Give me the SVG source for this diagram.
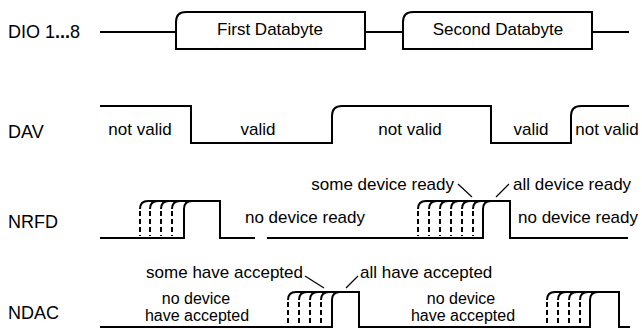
<svg xmlns="http://www.w3.org/2000/svg" width="642" height="329" viewBox="0 0 642 329">
<style>
text{font-family:"Liberation Sans",Arial,sans-serif;fill:#000}
.lbl{font-size:18px}
.t{font-size:17px}
.s{font-size:16px}
.m{text-anchor:middle}
.e{text-anchor:end}
.sig{fill:none;stroke:#000;stroke-width:2;stroke-linejoin:miter}
.arc{fill:none;stroke:#000;stroke-width:2}
.dash{fill:none;stroke:#000;stroke-width:2;stroke-dasharray:5 3}
.lead{fill:none;stroke:#000;stroke-width:1.2}
</style>
<rect width="642" height="329" fill="#fff"/>
<g id="dio">
<text class="lbl" x="8" y="38">DIO 1<tspan font-weight="bold">...</tspan>8</text>
<path class="sig" d="M100,32 H176 M365,32 H403 M592,32 H629"/>
<path class="sig" d="M176,49 V22 Q176,12 186,12 H365 V49 Z"/>
<path class="sig" d="M403,49 V22 Q403,12 413,12 H592 V49 Z"/>
<text class="t m" x="270" y="35">First Databyte</text>
<text class="t m" x="498" y="35">Second Databyte</text>
</g>
<g id="dav">
<text class="lbl" x="8" y="138">DAV</text>
<path class="sig" d="M100,106 H191 V143 H332 V116 Q332,106 342,106 H491 V143 H571 V116 Q571,106 581,106 H629"/>
<text class="t m" x="140" y="135">not valid</text>
<text class="t m" x="258" y="135">valid</text>
<text class="t m" x="410" y="135">not valid</text>
<text class="t m" x="531" y="135">valid</text>
<text class="t m" x="607" y="135">not valid</text>
</g>
<g id="nrfd">
<text class="lbl" x="8" y="228">NRFD</text>
<path class="sig" d="M100,238 H184 V209 Q184,201 192,201 H220 V238 H255"/>
<path class="sig" d="M148,201 H192"/>
<path class="arc" d="M140,209 Q140,201 148,201 M150,209 Q150,201 158,201 M161,209 Q161,201 169,201 M172,209 Q172,201 180,201"/>
<path class="dash" d="M140,211 V236 M150,211 V236 M161,211 V236 M172,211 V236"/>
<path class="sig" d="M267,238 H483 V209 Q483,201 491,201 H510 V238 H628"/>
<path class="sig" d="M426,201 H491"/>
<path class="arc" d="M418,209 Q418,201 426,201 M429,209 Q429,201 437,201 M440,209 Q440,201 448,201 M451,209 Q451,201 459,201 M462,209 Q462,201 470,201 M473,209 Q473,201 481,201"/>
<path class="dash" d="M418,211 V236 M429,211 V236 M440,211 V236 M451,211 V236 M462,211 V236 M473,211 V236"/>
<text class="t m" x="305" y="223">no device ready</text>
<text class="t" x="518" y="223">no device ready</text>
<text class="t e" x="454" y="190">some device ready</text>
<text class="t" x="513" y="190">all device ready</text>
</g>
<g id="ndac">
<text class="lbl" x="8" y="319">NDAC</text>
<path class="sig" d="M100,327 H332 V300 Q332,292 340,292 H359 V327 H590 V300 Q590,292 598,292 H619 V327 H630"/>
<path class="sig" d="M296,292 H340 M555,292 H598"/>
<path class="arc" d="M288,300 Q288,292 296,292 M299,300 Q299,292 307,292 M310,300 Q310,292 318,292 M321,300 Q321,292 329,292"/>
<path class="dash" d="M288,302 V325 M299,302 V325 M310,302 V325 M321,302 V325"/>
<path class="arc" d="M547,300 Q547,292 555,292 M558,300 Q558,292 566,292 M569,300 Q569,292 577,292 M580,300 Q580,292 588,292"/>
<path class="dash" d="M547,302 V325 M558,302 V325 M569,302 V325 M580,302 V325"/>
<text class="t e" x="303" y="278">some have accepted</text>
<text class="t" x="360" y="278">all have accepted</text>
<text class="s m" x="196" y="304">no device</text>
<text class="s m" x="197" y="321">have accepted</text>
<text class="s m" x="461" y="304">no device</text>
<text class="s m" x="463" y="321">have accepted</text>
</g>
<g id="connectors">
<path class="lead" d="M458,184 L472,197"/>
<path class="lead" d="M496,197 L509,184"/>
<path class="lead" d="M305,276 L324,288"/>
<path class="lead" d="M346,288 L358,276"/>
</g>
</svg>
